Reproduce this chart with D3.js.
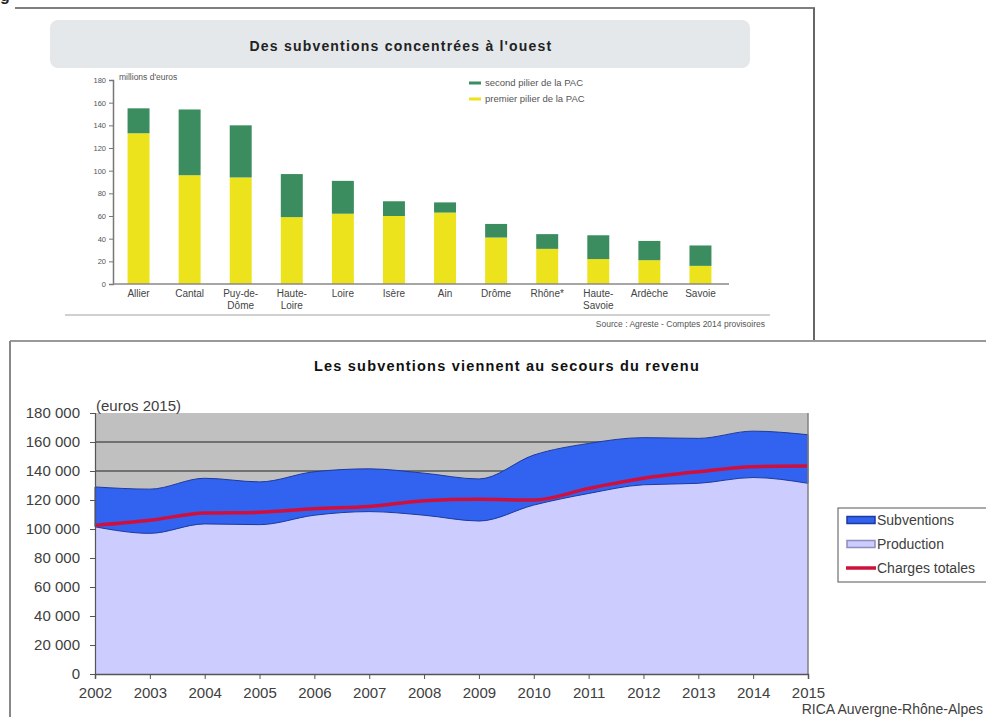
<!DOCTYPE html>
<html>
<head>
<meta charset="utf-8">
<script src="https://cdn.jsdelivr.net/npm/d3@7"></script>
<style>
  html, body { margin: 0; padding: 0; background: #fff; }
  svg { display: block; font-family: "Liberation Sans", Arial, sans-serif; }
</style>
</head>
<body>
<svg id="fig" width="986" height="717"></svg>
<script>
// ---- Bar chart: CAP subsidies by département (millions d'euros) ----
const departements = ["Allier", "Cantal", "Puy-de-Dôme", "Haute-Loire", "Loire", "Isère",
                      "Ain", "Drôme", "Rhône*", "Haute-Savoie", "Ardèche", "Savoie"];
const deptLabelLines = [["Allier"], ["Cantal"], ["Puy-de-", "Dôme"], ["Haute-", "Loire"], ["Loire"], ["Isère"],
                        ["Ain"], ["Drôme"], ["Rhône*"], ["Haute-", "Savoie"], ["Ardèche"], ["Savoie"]];
const premierPilier = [133, 96, 94, 59, 62, 60, 63, 41, 31, 22, 21, 16];
const secondPilier  = [22, 58, 46, 38, 29, 13, 9, 12, 13, 21, 17, 18];
const barTicks = [0, 20, 40, 60, 80, 100, 120, 140, 160, 180];

// ---- Area chart: farm revenue components (euros 2015) ----
const annees = [2002, 2003, 2004, 2005, 2006, 2007, 2008, 2009, 2010, 2011, 2012, 2013, 2014, 2015];
const production  = [101500, 97000, 103500, 103000, 109500, 112000, 109500, 105500, 116500, 124500, 130500, 131500, 135500, 131500];
const subventions = [27500, 30500, 31500, 29500, 30000, 29500, 29000, 29000, 34500, 34500, 32500, 31000, 32000, 33500];
const chargesTotales = [102500, 106000, 111000, 111500, 114000, 115500, 119500, 120500, 120000, 128000, 135000, 139500, 143000, 143500];
const areaTicks = [0, 20000, 40000, 60000, 80000, 100000, 120000, 140000, 160000, 180000];

const svg = d3.select("#fig");

// Page heading remnant and frames
svg.append("text").attr("x", 0).attr("y", 1).attr("font-size", 16).attr("font-weight", "bold")
  .attr("fill", "#222").text("g");
svg.append("line").attr("x1", 15).attr("x2", 815).attr("y1", 8).attr("y2", 8)
  .attr("stroke", "#555").attr("stroke-width", 1.5);
svg.append("line").attr("x1", 814).attr("x2", 814).attr("y1", 8).attr("y2", 341)
  .attr("stroke", "#666").attr("stroke-width", 2);
svg.append("line").attr("x1", 10).attr("x2", 986).attr("y1", 341).attr("y2", 341)
  .attr("stroke", "#999").attr("stroke-width", 2);
svg.append("line").attr("x1", 10).attr("x2", 10).attr("y1", 341).attr("y2", 717)
  .attr("stroke", "#888").attr("stroke-width", 2);

// ================= Top: stacked bars =================
const barG = svg.append("g");
barG.append("rect").attr("x", 50).attr("y", 20).attr("width", 700).attr("height", 48)
  .attr("rx", 8).attr("fill", "#e4e8eb");
barG.append("text").attr("x", 401).attr("y", 51).attr("text-anchor", "middle")
  .attr("font-size", 14).attr("font-weight", "bold").attr("letter-spacing", 1.2)
  .attr("fill", "#222").text("Des subventions concentrées à l'ouest");

const xBar = d3.scaleBand().domain(departements).range([113, 726])
  .paddingInner(0.57).paddingOuter(0.285);
const yBar = d3.scaleLinear().domain([0, 180]).range([284, 80]);

const barData = departements.map((d, i) => ({ d, p1: premierPilier[i], p2: secondPilier[i] }));
barG.selectAll("rect.p1").data(barData).join("rect").attr("class", "p1")
  .attr("x", b => xBar(b.d)).attr("width", xBar.bandwidth())
  .attr("y", b => yBar(b.p1)).attr("height", b => yBar(0) - yBar(b.p1))
  .attr("fill", "#ede31c");
barG.selectAll("rect.p2").data(barData).join("rect").attr("class", "p2")
  .attr("x", b => xBar(b.d)).attr("width", xBar.bandwidth())
  .attr("y", b => yBar(b.p1 + b.p2)).attr("height", b => yBar(b.p1) - yBar(b.p1 + b.p2))
  .attr("fill", "#3b8d60");

const yBarAxis = barG.append("g").attr("transform", "translate(113,0)")
  .call(d3.axisLeft(yBar).tickValues(barTicks).tickSize(4).tickPadding(3));
yBarAxis.select(".domain").attr("stroke", "#777").attr("stroke-width", 1.5);
yBarAxis.selectAll(".tick line").attr("stroke", "#777");
yBarAxis.selectAll("text").attr("font-size", 7.5).attr("fill", "#555");

barG.append("line").attr("x1", 113).attr("x2", 729).attr("y1", yBar(0)).attr("y2", yBar(0))
  .attr("stroke", "#888").attr("stroke-width", 1.5);

barG.append("text").attr("x", 119).attr("y", 80).attr("font-size", 8.5).attr("fill", "#555")
  .text("millions d'euros");

// category labels (wrapped)
departements.forEach((d, i) => {
  const cx = xBar(d) + xBar.bandwidth() / 2;
  const t = barG.append("text").attr("x", cx).attr("y", 297)
    .attr("text-anchor", "middle").attr("font-size", 10).attr("fill", "#444");
  deptLabelLines[i].forEach((line, j) => {
    t.append("tspan").attr("x", cx).attr("dy", j === 0 ? 0 : 12).text(line);
  });
});

// legend
const barLegend = [
  { label: "second pilier de la PAC", color: "#3b8d60", y: 83 },
  { label: "premier pilier de la PAC", color: "#ede31c", y: 99 }
];
barLegend.forEach(l => {
  barG.append("rect").attr("x", 469).attr("y", l.y - 1.5).attr("width", 12).attr("height", 3).attr("fill", l.color);
  barG.append("text").attr("x", 485).attr("y", l.y + 3).attr("font-size", 9.5).attr("fill", "#555").text(l.label);
});

barG.append("line").attr("x1", 65).attr("x2", 770).attr("y1", 315).attr("y2", 315)
  .attr("stroke", "#d0d0d0").attr("stroke-width", 2);
barG.append("text").attr("x", 765).attr("y", 327).attr("text-anchor", "end")
  .attr("font-size", 8.5).attr("fill", "#555").text("Source : Agreste - Comptes 2014 provisoires");

// ================= Bottom: stacked areas + line =================
const areaG = svg.append("g");
areaG.append("text").attr("x", 507).attr("y", 371).attr("text-anchor", "middle")
  .attr("font-size", 14.5).attr("font-weight", "bold").attr("letter-spacing", 1.2)
  .attr("fill", "#111").text("Les subventions viennent au secours du revenu");

const xA = d3.scalePoint().domain(annees).range([95, 808]);
const yA = d3.scaleLinear().domain([0, 180000]).range([674, 413]);

areaG.append("rect").attr("x", 95).attr("y", 413).attr("width", 713).attr("height", 261).attr("fill", "#c0c0c0");
areaG.selectAll("line.grid").data(areaTicks.filter(v => v > 0 && v < 180000)).join("line")
  .attr("class", "grid").attr("x1", 95).attr("x2", 808)
  .attr("y1", v => yA(v)).attr("y2", v => yA(v))
  .attr("stroke", "#222").attr("stroke-width", 1.2);

const rows = annees.map((a, i) => ({ a, prod: production[i], tot: production[i] + subventions[i], ch: chargesTotales[i] }));
const curve = d3.curveMonotoneX;

areaG.append("path").datum(rows)
  .attr("d", d3.area().x(r => xA(r.a)).y0(yA(0)).y1(r => yA(r.prod)).curve(curve))
  .attr("fill", "#ccccff");
areaG.append("path").datum(rows)
  .attr("d", d3.area().x(r => xA(r.a)).y0(r => yA(r.prod)).y1(r => yA(r.tot)).curve(curve))
  .attr("fill", "#3162f0").attr("stroke", "#1d3a9c").attr("stroke-width", 1);
areaG.append("path").datum(rows)
  .attr("d", d3.line().x(r => xA(r.a)).y(r => yA(r.ch)).curve(curve))
  .attr("fill", "none").attr("stroke", "#d0103c").attr("stroke-width", 3.5);

areaG.append("line").attr("x1", 808).attr("x2", 808).attr("y1", 413).attr("y2", 674)
  .attr("stroke", "#808080").attr("stroke-width", 1.5);

const fr = d3.formatLocale({ decimal: ",", thousands: " ", grouping: [3], currency: ["", " €"] });
const yAxisA = areaG.append("g").attr("transform", "translate(95,0)")
  .call(d3.axisLeft(yA).tickValues(areaTicks).tickFormat(fr.format(",")).tickSize(5).tickPadding(10));
yAxisA.select(".domain").attr("stroke", "#555").attr("stroke-width", 1.2);
yAxisA.selectAll(".tick line").attr("stroke", "#555");
yAxisA.selectAll("text").attr("font-size", 15).attr("fill", "#404040");

const xAxisA = areaG.append("g").attr("transform", "translate(0,674)")
  .call(d3.axisBottom(xA).tickSize(5).tickPadding(8).tickFormat(d3.format("d")));
xAxisA.select(".domain").attr("stroke", "#555").attr("stroke-width", 1.5);
xAxisA.selectAll(".tick line").attr("stroke", "#555");
xAxisA.selectAll("text").attr("font-size", 15).attr("fill", "#404040");

areaG.append("text").attr("x", 96).attr("y", 411).attr("font-size", 15).attr("fill", "#404040")
  .text("(euros 2015)");
areaG.append("text").attr("x", 983).attr("y", 714).attr("text-anchor", "end")
  .attr("font-size", 14).attr("fill", "#404040").text("RICA Auvergne-Rhône-Alpes");

// legend
const lg = areaG.append("g");
lg.append("rect").attr("x", 838).attr("y", 508).attr("width", 160).attr("height", 74)
  .attr("fill", "#fff").attr("stroke", "#555").attr("stroke-width", 1);
const areaLegend = [
  { label: "Subventions", y: 520, kind: "rect", fill: "#3162f0", stroke: "#1d3a9c" },
  { label: "Production", y: 544, kind: "rect", fill: "#ccccff", stroke: "#8c8cbf" },
  { label: "Charges totales", y: 568, kind: "line", stroke: "#d0103c" }
];
areaLegend.forEach(l => {
  if (l.kind === "rect") {
    lg.append("rect").attr("x", 847).attr("y", l.y - 3.5).attr("width", 28).attr("height", 7)
      .attr("fill", l.fill).attr("stroke", l.stroke).attr("stroke-width", 1.5);
  } else {
    lg.append("line").attr("x1", 846).attr("x2", 876).attr("y1", l.y).attr("y2", l.y)
      .attr("stroke", l.stroke).attr("stroke-width", 3.5);
  }
  lg.append("text").attr("x", 877).attr("y", l.y + 5).attr("font-size", 14).attr("fill", "#404040")
    .text(l.label);
});
</script>
</body>
</html>
